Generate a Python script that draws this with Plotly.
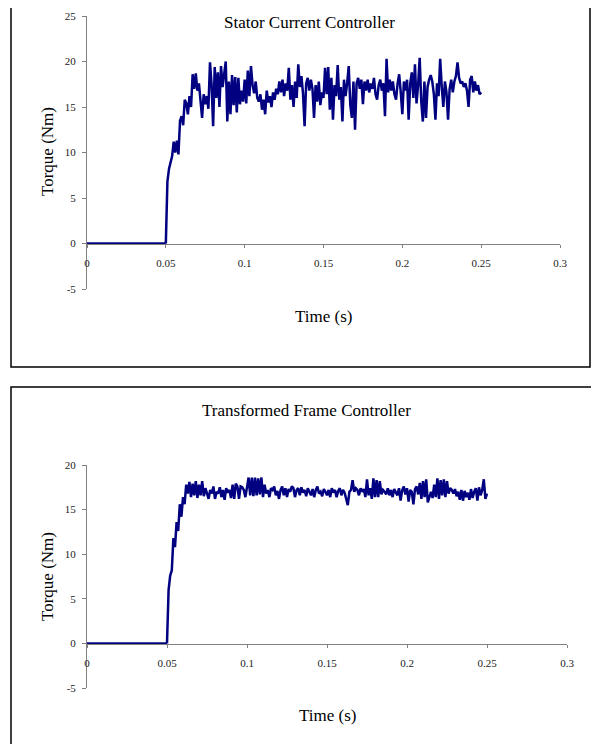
import plotly.graph_objects as go

# the page body keeps its 8px default margin, so the figure is 16px smaller than the window
PAGE_W, PAGE_H = 599, 752
PAD = 8
W, H = PAGE_W - 2 * PAD, PAGE_H - 2 * PAD

# sample step of the logged torque (s), both runs start at t = 0.05 s
t_step = 0.001
t_start = 0.05
off_time = [0.0, 0.05]
off_torque = [0.0, 0.0]

x_ticks = [0, 0.05, 0.1, 0.15, 0.2, 0.25, 0.3]
x_labels = ['0', '0.05', '0.1', '0.15', '0.2', '0.25', '0.3']
y_ticks_top = [-5, 0, 5, 10, 15, 20, 25]
y_ticks_bottom = [-5, 0, 5, 10, 15, 20]

# stator current controller, torque (Nm) from 0.050 to 0.250 s
stator_torque = [
    0.0, 6.8, 8.2, 9.1, 9.6, 11.2, 10.0, 11.3, 9.8, 13.5,
    14.0, 13.0, 15.8, 15.4, 14.2, 16.2, 15.0, 18.6, 17.0, 18.7,
    16.8, 17.6, 16.0, 13.8, 16.4, 15.3, 16.2, 14.8, 19.9, 17.5,
    12.9, 19.4, 16.0, 18.8, 15.0, 19.5, 17.2, 18.6, 20.0, 13.4,
    17.8, 14.2, 18.5, 15.2, 18.3, 14.4, 18.2, 15.3, 16.8, 15.6,
    18.0, 15.4, 19.0, 16.2, 19.5, 17.4, 16.5, 17.8, 16.0, 15.6,
    16.4, 14.7, 15.8, 14.2, 16.8, 15.5, 16.2, 15.0, 16.6, 15.8,
    17.0, 16.4, 17.8, 16.6, 18.0, 16.2, 17.6, 16.8, 19.3, 15.8,
    17.4, 15.0, 17.8, 16.0, 19.7, 17.2, 18.4, 16.5, 12.9, 17.6,
    18.2, 16.8, 18.0, 17.0, 13.8, 17.4, 15.6, 17.8, 15.2, 16.6,
    16.0, 19.3, 16.4, 19.4, 14.7, 18.2, 13.6, 17.4, 16.2, 19.6,
    15.8, 17.2, 13.4, 18.0, 16.2, 17.6, 19.5, 15.2, 13.8, 17.8,
    12.5, 17.6, 18.2, 17.0, 18.0, 15.3, 17.8, 16.8, 18.0, 16.6,
    17.6, 17.0, 18.2, 16.4, 15.8, 17.4, 18.0, 16.8, 17.6, 14.0,
    20.3, 16.6, 18.0, 16.8, 17.8, 16.4, 15.8, 17.6, 18.6, 16.6,
    14.2, 17.8, 16.8, 18.0, 13.6, 17.6, 18.8, 16.0, 19.7, 15.4,
    17.4, 20.4, 15.6, 13.4, 17.8, 13.8, 17.2, 18.0, 18.5, 17.8,
    16.4, 13.6, 17.6, 16.2, 20.3, 17.2, 15.0, 17.8, 16.6, 13.6,
    17.0, 18.0, 16.6, 17.8, 18.4, 19.9, 18.2, 17.6, 17.8, 17.2,
    17.6, 16.8, 15.0, 18.0, 18.4, 16.6, 17.8, 16.8, 17.4, 16.4,
    16.6,
]

# transformed frame controller, torque (Nm) from 0.050 to 0.250 s
frame_torque = [
    0.0, 6.0, 7.6, 8.2, 11.8, 10.8, 13.6, 12.6, 15.6, 14.2,
    16.4, 15.6, 17.8, 16.8, 18.1, 16.4, 17.9, 16.6, 18.2, 16.3,
    17.8, 16.6, 18.2, 16.5, 17.4, 16.8, 16.2, 17.2, 16.8, 17.6,
    16.2, 17.0, 16.8, 17.5, 16.4, 17.2, 16.1, 17.4, 16.9, 17.2,
    16.3, 17.8, 16.2, 17.9, 17.6, 16.2, 17.6, 17.5, 17.2, 16.4,
    17.4, 18.6, 16.6, 18.6, 16.5, 18.6, 16.6, 18.5, 16.7, 18.6,
    16.4, 17.8, 16.8, 17.2, 16.4, 17.4, 17.2, 17.6, 16.6, 17.1,
    16.2, 17.2, 17.6, 16.6, 17.4, 16.4, 17.3, 17.0, 17.6, 17.4,
    16.4, 17.2, 17.4, 16.6, 17.5, 16.9, 17.2, 16.5, 17.4, 17.0,
    16.6, 17.3, 16.4, 17.2, 17.6, 16.8, 17.0, 16.5, 17.3, 17.0,
    16.6, 17.2, 16.4, 17.4, 16.9, 17.2, 16.4, 17.1, 17.4, 16.6,
    17.2, 16.9, 16.2, 15.5, 17.0, 17.2, 18.3, 17.0, 17.4, 17.2,
    16.6, 17.4, 17.0, 17.3, 16.4, 18.4, 16.6, 17.4, 16.2, 18.5,
    16.4, 18.3, 16.4, 18.2, 16.7, 17.2, 17.0, 16.7, 17.4, 16.6,
    17.2, 16.4, 17.3, 17.0, 16.6, 17.4, 16.0, 17.2, 17.6, 16.7,
    17.4, 15.9, 17.2, 17.0, 15.6, 17.3, 17.6, 16.7, 18.0, 16.2,
    18.2, 16.4, 18.4, 15.8, 16.4, 17.0, 16.3, 17.8, 16.4, 18.5,
    16.2, 18.3, 16.6, 18.4, 16.4, 18.2, 16.8, 17.4, 17.2, 16.8,
    17.3, 16.5, 17.0, 16.1, 17.2, 16.0, 17.1, 16.4, 16.9, 16.1,
    17.3, 16.3, 17.0, 17.4, 16.0, 17.5, 16.6, 17.2, 18.4, 16.2,
    16.8,
]

LINE = '#000080'
AXIS = '#808080'
FONT = 'Liberation Serif, Times New Roman, serif'


def px_x(p):
    # window pixel -> paper fraction
    return (p - PAD) / W


def px_y(p):
    return 1 - (p - PAD) / H


fig = go.Figure()

panels = [
    # (x axis, y axis, torque, y range, y ticks, x right px, y top px, y zero px, y bottom px)
    ('x', 'y', stator_torque, [-5, 25], y_ticks_top, 560, 16, 244, 289),
    ('x2', 'y2', frame_torque, [-5, 20], y_ticks_bottom, 567, 465, 644, 688),
]

for xa, ya, torque, yr, yt, xr, yt_px, y0_px, yb_px in panels:
    fig.add_trace(go.Scatter(x=off_time, y=off_torque, mode='lines', xaxis=xa, yaxis=ya,
                             line=dict(color=LINE, width=2.5), showlegend=False, hoverinfo='skip'))
    fig.add_trace(go.Scatter(y=torque, x0=t_start, dx=t_step, mode='lines', xaxis=xa, yaxis=ya,
                             line=dict(color=LINE, width=2.5), showlegend=False))

    xkey = 'xaxis' if xa == 'x' else 'xaxis2'
    ykey = 'yaxis' if ya == 'y' else 'yaxis2'
    fig.update_layout(**{
        xkey: dict(domain=[px_x(87), px_x(xr)], range=[0, 0.3], anchor='free',
                   position=px_y(y0_px), tickvals=x_ticks, ticktext=x_labels,
                   showline=True, linecolor=AXIS, linewidth=1, ticks='outside',
                   ticklen=3, tickcolor=AXIS, showgrid=False, zeroline=False,
                   automargin=False, ticklabelstandoff=6,
                   tickfont=dict(family=FONT, size=11, color='#222')),
        ykey: dict(domain=[px_y(yb_px), px_y(yt_px)], range=yr, anchor=xa,
                   tickvals=yt, ticktext=[str(v) for v in yt],
                   showline=True, linecolor=AXIS, linewidth=1,
                   ticks='outside', ticklen=4, tickcolor=AXIS, showgrid=False,
                   zeroline=False, automargin=False, ticklabelstandoff=4,
                   tickfont=dict(family=FONT, size=11, color='#222')),
    })

texts = [
    ('Stator Current Controller', 309, 23, 0),
    ('Time (s)', 323, 316, 0),
    ('Torque (Nm)', 47, 152, -90),
    ('Transformed Frame Controller', 306, 410, 0),
    ('Time (s)', 327, 715, 0),
    ('Torque (Nm)', 47, 577, -90),
]
for txt, x, y, ang in texts:
    fig.add_annotation(text=txt, x=px_x(x), y=px_y(y), xref='paper', yref='paper',
                       xanchor='center', yanchor='middle', showarrow=False, textangle=ang,
                       font=dict(family=FONT, size=17, color='black'))

# frames round each chart
fig.add_shape(type='rect', xref='paper', yref='paper', x0=px_x(11), x1=px_x(590),
              y0=px_y(367), y1=px_y(3), line=dict(color='black', width=1.5))
fig.add_shape(type='rect', xref='paper', yref='paper', x0=px_x(11), x1=px_x(600),
              y0=px_y(760), y1=px_y(387), line=dict(color='black', width=1.5))

fig.update_layout(width=W, height=H, margin=dict(l=0, r=0, t=0, b=0),
                  plot_bgcolor='white', paper_bgcolor='white', showlegend=False)

fig.write_html("out.html")
